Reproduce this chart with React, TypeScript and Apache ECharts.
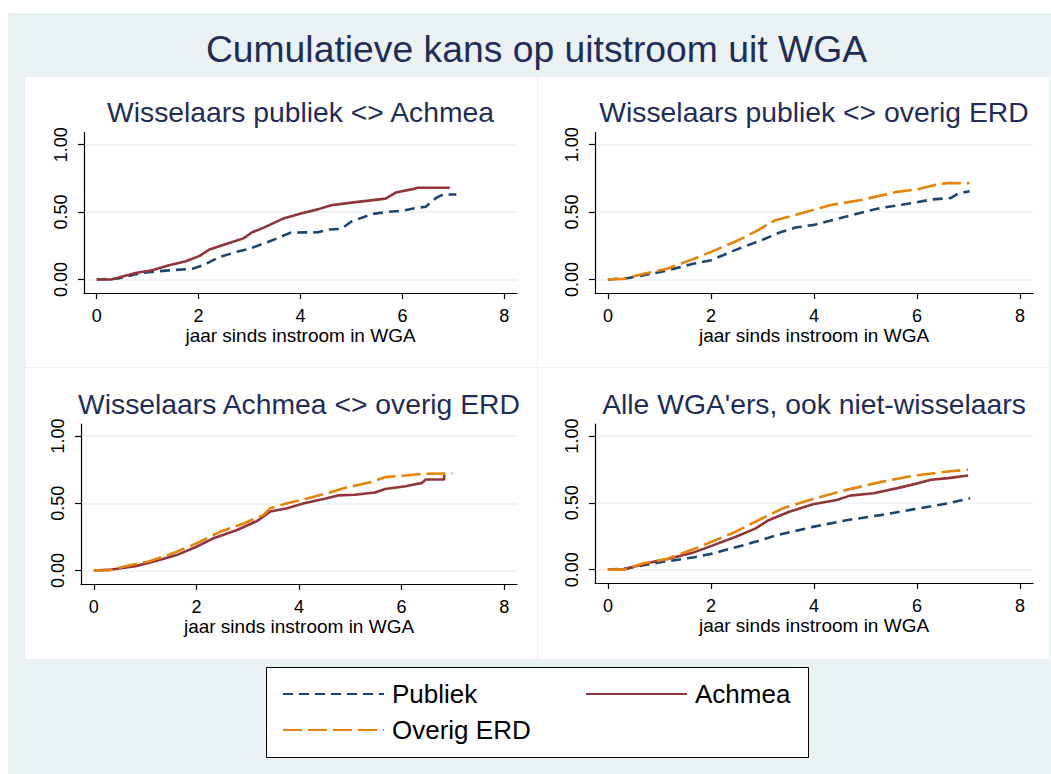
import React, { useEffect, useRef } from "react";
import * as echarts from "echarts";

const mainTitle = "Cumulatieve kans op uitstroom uit WGA";
const panelTitles = [
  "Wisselaars publiek <> Achmea",
  "Wisselaars publiek <> overig ERD",
  "Wisselaars Achmea <> overig ERD",
  "Alle WGA'ers, ook niet-wisselaars",
];
const xAxisName = "jaar sinds instroom in WGA";
const xTicks = [0, 2, 4, 6, 8];
const yTicks = [0, 0.5, 1];
const seriesNames = ["Publiek", "Achmea", "Overig ERD"];

type Pt = [number, number];

// Panel 1: Wisselaars publiek <> Achmea
const p1Publiek: Pt[] = [[0,0],[0.42,0.008],[0.89,0.05],[1.42,0.068],[1.88,0.08],[2.08,0.105],[2.42,0.168],[2.75,0.205],[3.01,0.23],[3.41,0.285],[3.81,0.348],[4.34,0.35],[4.54,0.37],[4.8,0.375],[5.0,0.43],[5.4,0.485],[5.67,0.5],[6.0,0.51],[6.26,0.53],[6.46,0.54],[6.66,0.605],[6.8,0.63],[7.06,0.63]];
const p1Achmea: Pt[] = [[0,0],[0.29,0],[0.76,0.048],[1.09,0.068],[1.42,0.105],[1.75,0.135],[2.02,0.175],[2.2,0.22],[2.6,0.27],[2.88,0.305],[3.05,0.35],[3.28,0.385],[3.68,0.455],[4.01,0.49],[4.34,0.52],[4.6,0.55],[5.0,0.57],[5.34,0.585],[5.67,0.6],[5.87,0.645],[6.2,0.67],[6.3,0.68],[6.93,0.68]];
// Panel 2: Wisselaars publiek <> overig ERD
const p2Publiek: Pt[] = [[0,0],[0.37,0.01],[1.02,0.055],[1.68,0.118],[2.0,0.143],[2.47,0.218],[2.99,0.293],[3.38,0.355],[3.64,0.385],[4.0,0.405],[4.63,0.468],[5.28,0.53],[5.94,0.568],[6.27,0.593],[6.66,0.605],[6.79,0.635],[7.02,0.655]];
const p2Overig: Pt[] = [[0,0],[0.3,0.005],[0.7,0.043],[1.15,0.08],[1.68,0.155],[2.0,0.205],[2.47,0.28],[2.86,0.355],[3.25,0.44],[3.65,0.48],[4.01,0.518],[4.3,0.55],[4.96,0.593],[5.61,0.65],[6.0,0.668],[6.4,0.705],[6.6,0.715],[7.02,0.715]];
// Panel 3: Wisselaars Achmea <> overig ERD
const p3Achmea: Pt[] = [[0,0],[0.35,0.008],[0.81,0.033],[1.14,0.063],[1.6,0.113],[1.99,0.175],[2.32,0.238],[2.78,0.3],[3.18,0.368],[3.44,0.439],[3.77,0.464],[4.1,0.5],[4.5,0.534],[4.76,0.559],[5.09,0.564],[5.48,0.581],[5.68,0.606],[6.08,0.627],[6.4,0.652],[6.47,0.677],[6.83,0.677],[6.83,0.714]];
const p3Overig: Pt[] = [[0,0],[0.28,0],[0.68,0.038],[1.07,0.068],[1.47,0.118],[1.99,0.2],[2.46,0.288],[2.92,0.35],[3.31,0.414],[3.44,0.464],[3.77,0.5],[4.1,0.53],[4.5,0.57],[4.89,0.614],[5.42,0.66],[5.68,0.695],[6.08,0.707],[6.4,0.72],[6.99,0.722]];
// Panel 4: Alle WGA'ers, ook niet-wisselaars
const p4Publiek: Pt[] = [[0,0],[0.37,0.01],[1.02,0.055],[1.68,0.093],[2.0,0.118],[2.66,0.186],[3.32,0.262],[3.98,0.32],[4.63,0.37],[5.29,0.408],[5.95,0.453],[6.6,0.496],[7.03,0.534]];
const p4Achmea: Pt[] = [[0,0],[0.3,0],[0.7,0.043],[1.22,0.086],[1.68,0.131],[2.0,0.176],[2.47,0.244],[2.86,0.307],[3.12,0.37],[3.52,0.433],[3.98,0.489],[4.44,0.521],[4.7,0.554],[5.16,0.572],[5.62,0.61],[5.95,0.64],[6.27,0.673],[6.6,0.685],[6.99,0.705]];
const p4Overig: Pt[] = [[0,0],[0.3,0],[0.7,0.048],[1.15,0.08],[1.68,0.156],[2.0,0.207],[2.47,0.282],[2.99,0.383],[3.39,0.458],[3.98,0.529],[4.63,0.597],[5.29,0.655],[5.95,0.705],[6.6,0.735],[6.99,0.748]];

const panelSeries: [string, Pt[]][][] = [
  [["Publiek", p1Publiek], ["Achmea", p1Achmea]],
  [["Publiek", p2Publiek], ["Overig ERD", p2Overig]],
  [["Achmea", p3Achmea], ["Overig ERD", p3Overig]],
  [["Publiek", p4Publiek], ["Achmea", p4Achmea], ["Overig ERD", p4Overig]],
];

const FONT = "'Liberation Sans', Arial, Helvetica, sans-serif";
const TITLE_COLOR = "#1f2d57";
const BG = "#eaf2f3";

const lineStyles: Record<string, any> = {
  Publiek: { color: "#1a476f", width: 2.6, type: [10, 6] },
  Achmea: { color: "#90353b", width: 2.6, type: "solid" },
  "Overig ERD": { color: "#e8830a", width: 2.6, type: [19, 6] },
};

const grids = [
  { left: 84, top: 132.5, width: 433, height: 160.5 },
  { left: 595, top: 132.5, width: 438, height: 160.5 },
  { left: 81, top: 424, width: 436, height: 160 },
  { left: 595, top: 424, width: 438, height: 159 },
];

const panels = [
  { x: 26, y: 77, w: 511, h: 290 },
  { x: 538, y: 77, w: 511, h: 290 },
  { x: 26, y: 368, w: 511, h: 291 },
  { x: 538, y: 368, w: 511, h: 291 },
];

const titleY = [112, 112, 404, 404];

export default function App() {
  const ref = useRef<HTMLDivElement>(null);
  useEffect(() => {
    if (!ref.current) return;
    const chart = echarts.init(ref.current, undefined, { renderer: "svg" });

    const xAxes = grids.map((_, i) => ({
      type: "value",
      gridIndex: i,
      min: -0.25,
      max: 8.25,
      name: xAxisName,
      nameLocation: "middle",
      nameGap: 31,
      nameTextStyle: { fontSize: 19, color: "#000", fontFamily: FONT },
      axisLine: { show: true, onZero: false, lineStyle: { color: "#000", width: 1.2 } },
      axisTick: { show: true, customValues: xTicks, length: 6, lineStyle: { color: "#000", width: 1.2 } },
      axisLabel: { show: true, customValues: xTicks, fontSize: 18, color: "#000", margin: 14, fontFamily: FONT },
      splitLine: { show: false },
    }));

    const yAxes = grids.map((_, i) => ({
      type: "value",
      gridIndex: i,
      min: -0.1,
      max: 1.09,
      axisLine: { show: true, onZero: false, lineStyle: { color: "#000", width: 1.2 } },
      axisTick: { show: true, customValues: yTicks, length: 6, lineStyle: { color: "#000", width: 1.2 } },
      axisLabel: {
        show: true,
        customValues: yTicks,
        rotate: 90,
        fontSize: 18,
        color: "#000",
        margin: 14,
        fontFamily: FONT,
        formatter: (v: number) => v.toFixed(2),
      },
      splitLine: { show: true, lineStyle: { color: BG, width: 1.5 } },
    }));

    const series: any[] = [];
    panelSeries.forEach((list, i) => {
      const ordered = [...list].sort(
        (a, b) => seriesNames.indexOf(a[0]) - seriesNames.indexOf(b[0])
      );
      ordered.forEach(([name, data]) => {
        series.push({
          type: "line",
          name,
          xAxisIndex: i,
          yAxisIndex: i,
          data,
          symbol: "none",
          showSymbol: false,
          smooth: false,
          lineStyle: lineStyles[name],
          itemStyle: { color: lineStyles[name].color },
          emphasis: { disabled: true },
          silent: true,
        });
      });
    });

    const legendCommon = {
      orient: "vertical",
      itemWidth: 101,
      itemHeight: 26,
      itemGap: 10,
      selectedMode: false,
      itemStyle: { color: "transparent", borderColor: "transparent", borderWidth: 0, opacity: 0 },
      textStyle: { fontSize: 26, color: "#000", fontFamily: FONT, padding: [0, 0, 0, 3] },
    };

    const graphic: any[] = [
      { type: "rect", shape: { x: 8, y: 13, width: 1043, height: 761 }, style: { fill: BG }, z: -10, silent: true },
      ...panels.map((p) => ({
        type: "rect",
        shape: { x: p.x, y: p.y, width: p.w, height: p.h },
        style: { fill: "#fff" },
        z: -9,
        silent: true,
      })),
      {
        type: "rect",
        shape: { x: 266.5, y: 667.5, width: 542, height: 90 },
        style: { fill: "#fff", stroke: "#000", lineWidth: 1 },
        z: -8,
        silent: true,
      },
      {
        type: "text",
        x: 536.5,
        y: 49,
        style: { text: mainTitle, fill: TITLE_COLOR, fontSize: 37.3, fontFamily: FONT, align: "center", verticalAlign: "middle" },
        silent: true,
      },
      ...panelTitles.map((t, i) => ({
        type: "text",
        x: grids[i].left + grids[i].width / 2,
        y: titleY[i],
        style: { text: t, fill: TITLE_COLOR, fontSize: 28.3, fontFamily: FONT, align: "center", verticalAlign: "middle" },
        silent: true,
      })),
    ];

    chart.setOption({
      animation: false,
      backgroundColor: "#fff",
      textStyle: { fontFamily: FONT },
      grid: grids.map((g) => ({ ...g, containLabel: false })),
      xAxis: xAxes,
      yAxis: yAxes,
      series,
      legend: [
        { ...legendCommon, data: ["Publiek", "Overig ERD"], left: 277, top: 676 },
        { ...legendCommon, data: ["Achmea"], left: 580, top: 676 },
      ],
      graphic,
    });

    return () => chart.dispose();
  }, []);

  return (
    <div
      ref={ref}
      style={{ position: "absolute", left: 0, top: 0, width: 1051, height: 774 }}
    />
  );
}
